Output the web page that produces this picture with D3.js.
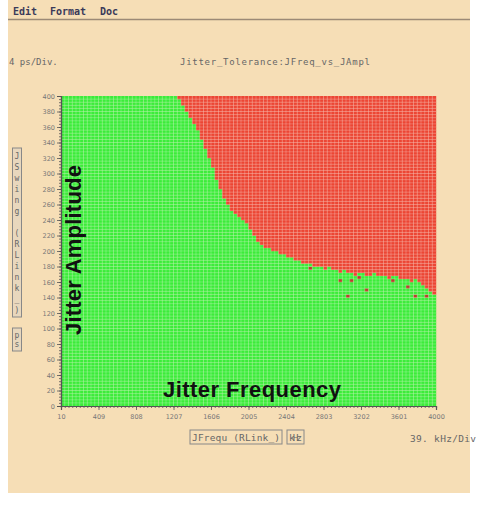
<!DOCTYPE html>
<html>
<head>
<meta charset="utf-8">
<script src="https://cdn.jsdelivr.net/npm/d3@7"></script>
<style>
  html, body { margin: 0; padding: 0; background: #ffffff; }
  svg { display: block; }
</style>
</head>
<body>
<svg id="chart" width="478" height="509"></svg>
<script>
// Jitter tolerance sweep: 100 frequency bins x 100 amplitude bins (39.9 kHz/Div, 4 ps/Div)
const freqTicks = [10, 409, 808, 1207, 1606, 2005, 2404, 2803, 3202, 3601, 4000];
const ampTicks = [0, 20, 40, 60, 80, 100, 120, 140, 160, 180, 200, 220, 240, 260, 280, 300, 320, 340, 360, 380, 400];
const freqDiv = 39.9;   // kHz per bin
const ampDiv = 4;       // ps per bin

// Lowest failing amplitude (ps) for each frequency bin; null = passes at every amplitude
const failFrom = [
  null, null, null, null, null, null, null, null, null, null,
  null, null, null, null, null, null, null, null, null, null,
  null, null, null, null, null, null, null, null, null, null,
  null, 396, 388, 380, 372, 364, 356, 344, 332, 320,
  308, 292, 280, 268, 260, 252, 248, 244, 240, 236,
  228, 220, 212, 208, 204, 204, 200, 200, 196, 196,
  192, 192, 188, 188, 184, 184, 184, 180, 180, 180,
  176, 180, 176, 176, 172, 176, 172, 172, 168, 172,
  172, 168, 168, 172, 168, 168, 168, 164, 168, 168,
  164, 164, 164, 160, 164, 160, 156, 152, 148, 144
];

// Isolated failures below the main boundary: [frequency bin, amplitude bin]
const strayFails = [
  [66, 44], [70, 44], [74, 40], [77, 40], [79, 41],
  [76, 35], [81, 37], [88, 40], [94, 35], [92, 38], [97, 35]
];

const svg = d3.select("#chart");

// page background
svg.append("rect").attr("x", 8).attr("y", 0).attr("width", 462).attr("height", 493).attr("fill", "#f6deb6");

// menu bar
svg.append("line").attr("x1", 8).attr("x2", 470).attr("y1", 19.5).attr("y2", 19.5)
  .attr("stroke", "#9c8a76").attr("stroke-width", 1.5);
const menu = [["Edit", 13], ["Format", 50], ["Doc", 100]];
svg.selectAll("text.menu").data(menu).enter().append("text")
  .attr("class", "menu").attr("x", d => d[1]).attr("y", 15)
  .attr("font-family", "DejaVu Sans Mono").attr("font-weight", "bold").attr("font-size", 10)
  .attr("fill", "#3a3a5a").text(d => d[0]);

const mono = "DejaVu Sans Mono";
svg.append("text").attr("x", 9).attr("y", 65).attr("font-family", mono).attr("font-size", 9)
  .attr("fill", "#666").text("4 ps/Div.");
svg.append("text").attr("x", 180).attr("y", 65).attr("font-family", mono).attr("font-size", 9)
  .attr("fill", "#666").attr("textLength", 190).text("Jitter_Tolerance:JFreq_vs_JAmpl");

// plot area
const pL = 61, pR = 436, pT = 96, pB = 406;
const x = d3.scaleLinear().domain([10, 4000]).range([pL, pR]);
const y = d3.scaleLinear().domain([0, 400]).range([pB, pT]);

const green = "#3cec3a", red = "#ec4634", stray = "#b8402c";

const cells = [];
failFrom.forEach((f, i) => {
  for (let j = 0; j < 100; j++) {
    const a = j * ampDiv;
    cells.push({ i, j, fail: f !== null && a >= f });
  }
});
const strayKeys = new Set(strayFails.map(d => d[0] + ":" + d[1]));

const g = svg.append("g");
g.selectAll("rect.cell").data(cells).enter().append("rect")
  .attr("class", "cell")
  .attr("x", d => x(10 + d.i * freqDiv))
  .attr("y", d => y((d.j + 1) * ampDiv))
  .attr("width", d => x(10 + (d.i + 1) * freqDiv) - x(10 + d.i * freqDiv) + 0.2)
  .attr("height", d => y(d.j * ampDiv) - y((d.j + 1) * ampDiv) + 0.2)
  .attr("fill", d => d.fail ? red : (strayKeys.has(d.i + ":" + d.j) ? stray : green));

// light cell grid
const gridF = d3.range(1, 100).map(i => 10 + i * freqDiv);
const gridA = d3.range(1, 100).map(j => j * ampDiv);
g.selectAll("line.gx").data(gridF).enter().append("line")
  .attr("x1", d => x(d)).attr("x2", d => x(d)).attr("y1", pT).attr("y2", pB)
  .attr("stroke", "#ffffff").attr("stroke-opacity", 0.32).attr("stroke-width", 0.7);
g.selectAll("line.gy").data(gridA).enter().append("line")
  .attr("y1", d => y(d)).attr("y2", d => y(d)).attr("x1", pL).attr("x2", pR)
  .attr("stroke", "#ffffff").attr("stroke-opacity", 0.32).attr("stroke-width", 0.7);

// axes
const axisColor = "#555";
const xAxis = svg.append("g").attr("transform", `translate(0,${pB})`)
  .call(d3.axisBottom(x).tickValues(freqTicks).tickSize(4).tickFormat(d3.format("d")));
const xMinor = svg.append("g").attr("transform", `translate(0,${pB})`)
  .call(d3.axisBottom(x).tickValues(d3.range(0, 101).map(i => 10 + i * freqDiv)).tickSize(2).tickFormat(""));
const yAxis = svg.append("g").attr("transform", `translate(${pL},0)`)
  .call(d3.axisLeft(y).tickValues(ampTicks).tickSize(4).tickPadding(2));
const yMinor = svg.append("g").attr("transform", `translate(${pL},0)`)
  .call(d3.axisLeft(y).tickValues(d3.range(0, 101).map(j => j * ampDiv)).tickSize(2).tickFormat(""));
[xAxis, xMinor, yAxis, yMinor].forEach(a => {
  a.selectAll("path").attr("stroke", axisColor).attr("stroke-width", 1.2);
  a.selectAll("line").attr("stroke", axisColor).attr("stroke-width", 0.8);
  a.selectAll("text").attr("fill", "#777").attr("font-family", "DejaVu Sans").attr("font-size", 6.5);
});
xAxis.selectAll("text").attr("dy", "0.9em");

// overlay titles
const bold = "Liberation Sans, Arial, sans-serif";
svg.append("text").attr("x", 163).attr("y", 397).attr("font-family", bold).attr("font-weight", "bold")
  .attr("font-size", 22).attr("textLength", 178).attr("fill", "#111").text("Jitter Frequency");
svg.append("text").attr("transform", "translate(81,335) rotate(-90)")
  .attr("font-family", bold).attr("font-weight", "bold")
  .attr("font-size", 22).attr("textLength", 170).attr("fill", "#111").text("Jitter Amplitude");

// y-axis unit label, stacked characters in boxes
function vbox(str, y0, y1) {
  svg.append("rect").attr("x", 12.5).attr("y", y0).attr("width", 9).attr("height", y1 - y0)
    .attr("fill", "#e8d7bd").attr("stroke", "#888").attr("stroke-width", 1);
  const chars = str.split("");
  const step = (y1 - y0 - 4) / chars.length;
  svg.selectAll(null).data(chars).enter().append("text")
    .attr("x", 17).attr("y", (d, i) => y0 + 2 + step * (i + 0.5) + 3)
    .attr("text-anchor", "middle").attr("font-family", mono).attr("font-size", 8)
    .attr("fill", "#666").text(d => d);
}
vbox("JSwing (RLink_)", 148, 317);
vbox("ps", 328, 351);

// x-axis unit label
function hbox(str, x0, x1) {
  svg.append("rect").attr("x", x0).attr("y", 430).attr("width", x1 - x0).attr("height", 14)
    .attr("fill", "none").attr("stroke", "#888").attr("stroke-width", 1);
  svg.append("text").attr("x", (x0 + x1) / 2).attr("y", 441).attr("text-anchor", "middle")
    .attr("font-family", mono).attr("font-size", 9.5).attr("textLength", x1 - x0 - 4)
    .attr("fill", "#666").text(str);
}
hbox("JFrequ (RLink_)", 190, 282);
hbox("kHz", 287, 304);
svg.append("text").attr("x", 410).attr("y", 442).attr("font-family", mono).attr("font-size", 9.5)
  .attr("fill", "#666").attr("textLength", 66).text("39. kHz/Div");
</script>
</body>
</html>
